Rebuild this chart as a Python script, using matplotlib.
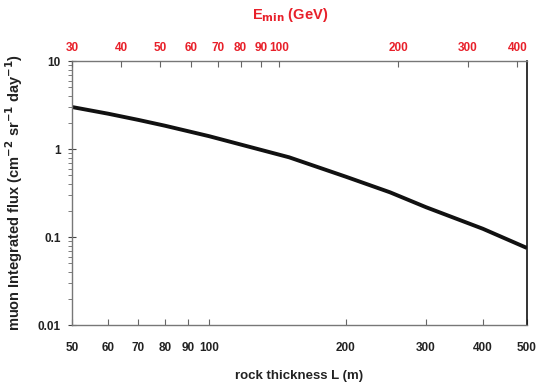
import numpy as np
import matplotlib.pyplot as plt
from matplotlib.ticker import FixedLocator, NullFormatter, NullLocator

# data
thickness = [50, 60, 70, 80, 100, 150, 200, 250, 300, 400, 500]
flux = [3.0, 2.52, 2.14, 1.84, 1.40, 0.805, 0.484, 0.322, 0.218, 0.124, 0.075]

x_ticks = [50, 60, 70, 80, 90, 100, 200, 300, 400, 500]
x_labels = ['50', '60', '70', '80', '90', '100', '200', '300', '400', '500']
e_ticks = [30, 40, 50, 60, 70, 80, 90, 100, 200, 300, 400]
e_labels = ['30', '40', '50', '60', '70', '80', '90', '100', '200', '300', '400']
y_ticks = [0.01, 0.1, 1, 10]
y_labels = ['0.01', '0.1', '1', '10']

plt.rcParams['font.family'] = ['Liberation Sans', 'DejaVu Sans']

fig = plt.figure(figsize=(5.47, 3.82), dpi=100)
ax = fig.add_axes([0.1316, 0.1492, 0.8318, 0.6911])

ax.plot(thickness, flux, color='#111111', linewidth=2.8, solid_capstyle='butt',
        solid_joinstyle='round')
ax.set_xscale('log')
ax.set_yscale('log')
ax.set_xlim(50, 500)
ax.set_ylim(0.01, 10)

ax.xaxis.set_major_locator(FixedLocator(x_ticks))
ax.set_xticklabels(x_labels)
ax.xaxis.set_minor_locator(NullLocator())
ax.yaxis.set_major_locator(FixedLocator(y_ticks))
ax.set_yticklabels(y_labels)
ax.yaxis.set_minor_formatter(NullFormatter())

ax.tick_params(axis='x', which='major', direction='in', length=4, width=0.8,
               color='#666666', labelsize=8.5, pad=12)
ax.tick_params(axis='y', which='major', direction='inout', length=6, width=0.8,
               color='#444444', labelsize=8.5, pad=5)
ax.tick_params(axis='y', which='minor', direction='out', length=3, width=0.6,
               color='#666666')

for lab in ax.get_xticklabels() + ax.get_yticklabels():
    lab.set_fontweight('bold')
    lab.set_color('#222222')

for s in ['left', 'bottom', 'top']:
    ax.spines[s].set_color('#777777')
    ax.spines[s].set_linewidth(1.0)
ax.spines['right'].set_color('#111111')
ax.spines['right'].set_linewidth(1.2)

ax.set_xlabel('rock thickness L (m)', fontsize=9.5, fontweight='bold',
              color='#222222', labelpad=12)
ax.set_ylabel('muon Integrated flux (cm$^{\\mathbf{-2}}$ sr$^{\\mathbf{-1}}$ day$^{\\mathbf{-1}}$)',
              fontsize=10.5, fontweight='bold', color='#222222', labelpad=9)

# top axis: minimum muon energy
top = ax.twiny()
top.set_xscale('log')
top.set_xlim(30, 423)
top.xaxis.set_major_locator(FixedLocator(e_ticks))
top.set_xticklabels(e_labels)
top.xaxis.set_minor_locator(NullLocator())
top.tick_params(axis='x', which='major', direction='in', length=4, width=0.8,
                color='#666666', labelsize=8.5, labelcolor='#e8202a', pad=5)
for lab in top.get_xticklabels():
    lab.set_fontweight('bold')
for s in top.spines.values():
    s.set_visible(False)
top.set_xlabel('E$_{\\mathbf{min}}$ (GeV)', fontsize=10.5, fontweight='bold',
               color='#e8202a', labelpad=15)
top.xaxis.set_label_coords(0.48, 1.16)

fig.savefig('out.png', dpi=100)
